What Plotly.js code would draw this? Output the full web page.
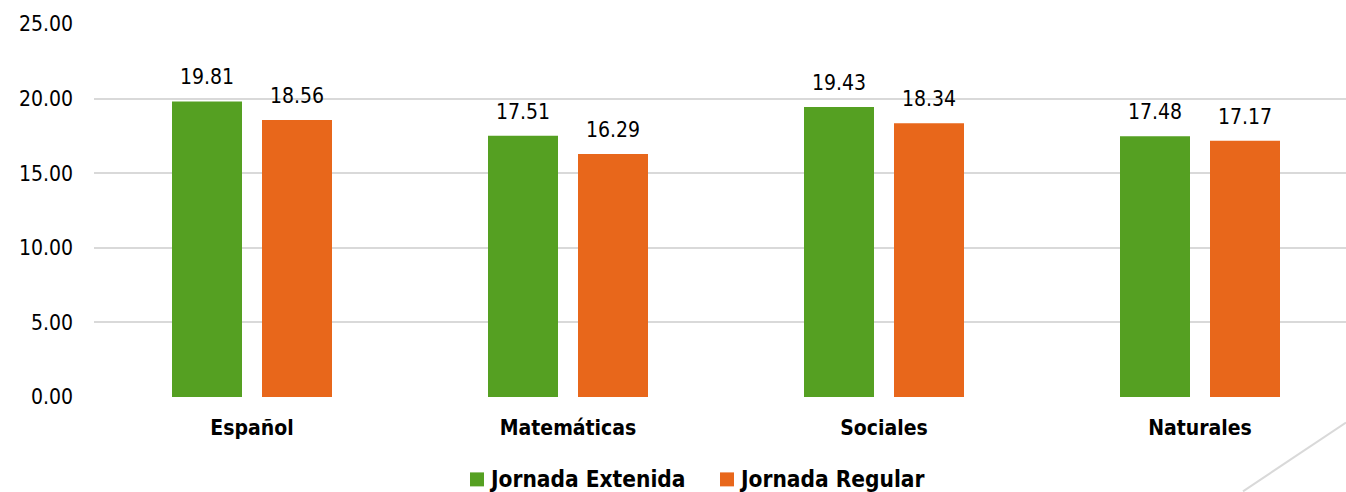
<!DOCTYPE html>
<html>
<head>
<meta charset="utf-8">
<script src="https://cdn.plot.ly/plotly-3.0.1.min.js"></script>
<style>html,body{margin:0;padding:0;background:#fff;}#chart{width:1346px;height:492px;}</style>
</head>
<body>
<div id="chart"></div>
<script>
const categories = ["Español", "Matemáticas", "Sociales", "Naturales"];
const seriesNames = ["Jornada Extenida", "Jornada Regular"];
const extendida = [19.81, 17.51, 19.43, 17.48];
const regular = [18.56, 16.29, 18.34, 17.17];
const yTicks = [0, 5, 10, 15, 20, 25];
const yTickLabels = ["0.00", "5.00", "10.00", "15.00", "20.00", "25.00"];

const FONT = "DejaVu Sans Condensed, DejaVu Sans, sans-serif";
const colors = ["#55A022", "#E8671B"];
const barW = 70 / 316;
const offs = [-80 / 316, 10 / 316];
const allSeries = [extendida, regular];

// plot area in pixels
const PL = 94, PR = 1346, PT = 24, PB = 397.5;
const px2x = p => (p - PL) / (PR - PL);
const px2y = p => (PB - p) / (PB - PT);

const traces = allSeries.map((vals, i) => ({
  type: "bar",
  name: seriesNames[i],
  x: categories.map((c, k) => k),
  y: vals,
  width: barW,
  offset: offs[i],
  marker: {color: colors[i], line: {width: 0}},
  hoverinfo: "skip",
  showlegend: false
}));

const annotations = [];
allSeries.forEach((vals, i) => {
  vals.forEach((v, k) => {
    annotations.push({
      x: k + offs[i] + barW / 2, y: v, xref: "x", yref: "y",
      text: v.toFixed(2), showarrow: false,
      yanchor: "bottom", yshift: 10,
      font: {family: FONT, size: 21, color: "#000"}
    });
  });
});

// custom legend
const legendSquares = [470, 720];
const shapes = [];
seriesNames.forEach((name, i) => {
  const sx = legendSquares[i];
  shapes.push({type: "rect", xref: "paper", yref: "paper",
    x0: px2x(sx), x1: px2x(sx + 14), y0: px2y(487), y1: px2y(473),
    fillcolor: colors[i], line: {width: 0}});
  annotations.push({xref: "paper", yref: "paper", x: px2x(sx + 17), y: px2y(480),
    xanchor: "left", yanchor: "middle", showarrow: false, text: name,
    font: {family: FONT, size: 22.5, color: "#000", weight: "bold"}});
});

shapes.push({type: "line", xref: "paper", yref: "paper", x0: px2x(1346), y0: px2y(423), x1: px2x(1243), y1: px2y(492),
            line: {color: "#d9d9d9", width: 2}});

const layout = {
  width: 1346, height: 492,
  margin: {l: PL, r: 1346 - PR, t: PT, b: 492 - PB, autoexpand: false},
  paper_bgcolor: "#fff", plot_bgcolor: "#fff",
  barmode: "overlay",
  showlegend: false,
  xaxis: {
    tickmode: "array", tickvals: categories.map((c, k) => k), ticktext: categories,
    range: [-0.5, 3.5 - 12 / 316],
    showgrid: false, zeroline: false, showline: false, ticks: "",
    tickfont: {family: FONT, size: 21, color: "#000", weight: "bold"},
    ticklabelstandoff: 16
  },
  yaxis: {
    range: [0, 25], tickmode: "array", tickvals: yTicks, ticktext: yTickLabels,
    showgrid: true, gridcolor: "#d9d9d9", gridwidth: 2, zeroline: false, showline: false,
    tickfont: {family: FONT, size: 21, color: "#000"},
    ticklabelstandoff: 20
  },
  annotations: annotations,
  shapes: shapes
};

Plotly.newPlot("chart", traces, layout, {displayModeBar: false, staticPlot: true});
</script>
</body>
</html>
